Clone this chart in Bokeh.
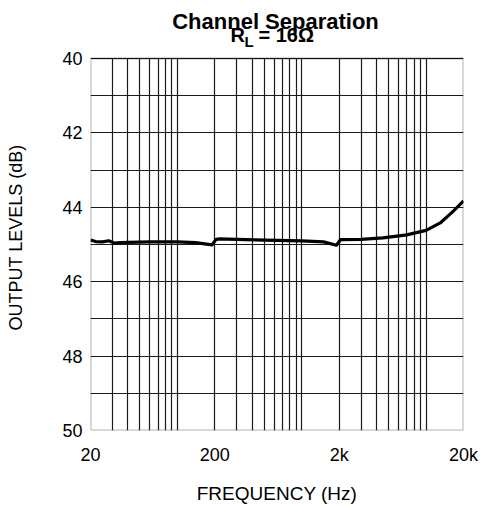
import math
from bokeh.plotting import figure
from bokeh.models import Range1d, FixedTicker, CustomJSTickFormatter, BoxAnnotation, Title
from bokeh.core.properties import value
from bokeh.embed import file_html
from bokeh.resources import INLINE

# ---- data ----
freq_hz = [20, 22, 25, 28, 31, 35, 40, 60, 100, 140, 190, 205, 220, 300, 500,
           1000, 1500, 1900, 2050, 3000, 4500, 7000, 10000, 13000, 16000, 18000, 20000]
level_db = [44.88, 44.92, 44.93, 44.90, 44.96, 44.95, 44.94, 44.93, 44.93, 44.95, 45.01,
            44.86, 44.85, 44.86, 44.88, 44.90, 44.93, 45.02, 44.87, 44.86, 44.82, 44.74,
            44.62, 44.42, 44.15, 43.98, 43.83]

x_major_ticks = [20, 200, 2000, 20000]
x_grid_lines = ([20, 30, 40, 50, 60, 70, 80, 90, 100] +
                [200, 300, 400, 500, 600, 700, 800, 900, 1000] +
                [2000, 3000, 4000, 5000, 6000, 7000, 8000, 9000, 10000] + [20000])
y_major_ticks = [40, 42, 44, 46, 48, 50]
y_grid_lines = [40, 41, 42, 43, 44, 45, 46, 47, 48, 49, 50]

title_line1 = "Channel Separation"
title_R = "R"
title_sub = "L"
title_rest = "= 16Ω"
x_label = "FREQUENCY (Hz)"
y_label = "OUTPUT LEVELS (dB)"

FONT = "Liberation Sans"

# ---- layout geometry (pixels) ----
W, H = 482, 506
LEFT, RIGHT, BOTTOM = 90, 463, 432          # frame edges on the page
TOP_PAD = 0
PLOT_TOP = 58.3                              # where the 40 dB line sits
F_MIN, F_MAX = 20, 20000
Y_TOP_VAL, Y_BOT_VAL = 40, 50
px_per_db = (BOTTOM - PLOT_TOP) / (Y_BOT_VAL - Y_TOP_VAL)
y_frame_top = Y_TOP_VAL - (PLOT_TOP - TOP_PAD) / px_per_db   # frame includes the title area


def fx(px):
    return F_MIN * 10 ** ((px - LEFT) / (RIGHT - LEFT) * math.log10(F_MAX / F_MIN))


def fy(py):
    return Y_TOP_VAL - (PLOT_TOP - py) / px_per_db


p = figure(width=W, height=H, x_axis_type="log",
           x_range=Range1d(F_MIN, F_MAX), y_range=Range1d(Y_BOT_VAL, y_frame_top),
           output_backend="svg", toolbar_location=None,
           min_border_left=LEFT, min_border_right=W - RIGHT,
           min_border_top=TOP_PAD, min_border_bottom=H - BOTTOM)
p.title = None
p.background_fill_color = "white"
p.border_fill_color = "white"
p.outline_line_color = None

p.xgrid.ticker = FixedTicker(ticks=x_grid_lines)
p.ygrid.ticker = FixedTicker(ticks=y_grid_lines)
for g in (p.xgrid, p.ygrid):
    g.grid_line_color = "#1a1a1a"
    g.grid_line_width = 1.2
    g.grid_line_alpha = 1.0
# keep vertical grid lines inside the 40..50 dB box when the library supports it
if "cross_bounds" in p.xgrid[0].properties():
    p.xgrid.cross_bounds = (Y_TOP_VAL, Y_BOT_VAL)

# white cover over the grid in the title area, then the chart frame
p.add_layout(BoxAnnotation(top=y_frame_top - 0.5, bottom=Y_TOP_VAL - 0.02, fill_color="white",
                           fill_alpha=1.0, line_color=None, level="underlay"))
p.add_layout(BoxAnnotation(left=F_MIN, right=F_MAX, top=Y_TOP_VAL, bottom=Y_BOT_VAL,
                           fill_alpha=0, line_color="black", line_width=2, level="underlay"))

p.xaxis.ticker = FixedTicker(ticks=x_major_ticks)
p.xaxis.formatter = CustomJSTickFormatter(
    code="return tick >= 1000 ? (tick/1000) + 'k' : tick.toString();")
p.yaxis.ticker = FixedTicker(ticks=y_major_ticks)
for ax in (p.xaxis, p.yaxis):
    ax.axis_line_color = None
    ax.major_tick_line_color = None
    ax.minor_tick_line_color = None
    ax.major_tick_out = 0
    ax.major_tick_in = 0
    ax.minor_tick_out = 0
    ax.major_label_text_font = FONT
    ax.major_label_text_font_size = "18px"
    ax.major_label_text_color = "black"
    ax.axis_label_text_font = FONT
    ax.axis_label_text_font_size = "19px"
    ax.axis_label_text_font_style = "normal"
    ax.axis_label_text_color = "black"
p.xaxis.axis_label = x_label
p.yaxis.major_label_standoff = 8
p.xaxis.major_label_standoff = 14
p.xaxis.axis_label_standoff = 15

# spacer between the y tick labels and the y-axis title
p.yaxis.axis_label = "\u00a0"
p.yaxis.axis_label_text_font_size = "18px"
p.yaxis.axis_label_standoff = 10

# y-axis title: starts 100 px above the frame bottom (centred on the 40..50 dB box)
p.add_layout(Title(text=y_label, align="left", offset=BOTTOM - 332, standoff=0,
                   vertical_align="middle",
                   text_font=FONT, text_font_size="18px", text_font_style="normal",
                   text_color="black"), "left")

p.line(freq_hz, level_db, line_width=3.2, line_color="black", line_join="round")

# chart title (two lines, subscript L)
bold = dict(text_font=value(FONT), text_font_style="bold", text_color="black",
            text_baseline="alphabetic")
p.text(x=[fx(275)], y=[fy(21)], text=[title_line1], text_align="center",
       text_font_size="22px", **bold)
p.text(x=[fx(230)], y=[fy(35)], text=[title_R], text_align="left",
       text_font_size="20px", **bold)
p.text(x=[fx(244)], y=[fy(41)], text=[title_sub], text_align="left",
       text_font_size="15px", **bold)
p.text(x=[fx(258)], y=[fy(35)], text=[title_rest], text_align="left",
       text_font_size="20px", **bold)

open("out.html", "w").write(file_html(p, INLINE))
